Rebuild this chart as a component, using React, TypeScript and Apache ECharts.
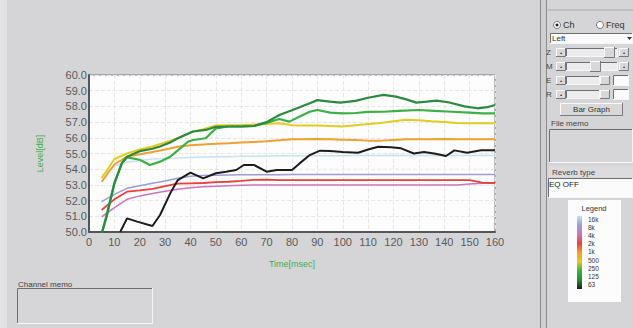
import React, { useEffect, useRef } from "react";
import * as echarts from "echarts";

// ---- data ----
const bandNames = ["16k", "8k", "4k", "2k", "1k", "500", "250", "125", "63"];
const bandColors = ["#c6e2f2", "#9c9cd6", "#cc74c0", "#e84038", "#f0a030", "#e2cc22", "#3cb044", "#2a8a40", "#1c1c1c"];

const times5 = [5, 10, 15, 20, 25, 30, 35, 40, 45, 50, 55, 60, 65, 70, 75, 80, 85, 90, 95, 100, 105, 110, 115, 120, 125, 130, 135, 140, 145, 150, 155, 160];

const level16k = [53.6, 54.2, 54.45, 54.55, 54.65, 54.7, 54.72, 54.75, 54.78, 54.8, 54.8, 54.82, 54.82, 54.84, 54.85, 54.85, 54.85, 54.86, 54.86, 54.86, 54.87, 54.87, 54.88, 54.88, 54.88, 54.88, 54.88, 54.88, 54.88, 54.88, 54.88, 54.88];
const level8k = [51.93, 52.4, 52.78, 52.95, 53.1, 53.25, 53.42, 53.55, 53.6, 53.62, 53.63, 53.64, 53.65, 53.65, 53.65, 53.66, 53.66, 53.66, 53.66, 53.66, 53.67, 53.67, 53.67, 53.67, 53.67, 53.67, 53.67, 53.67, 53.67, 53.67, 53.67, 53.67];
const level4k = [50.97, 51.55, 52.08, 52.3, 52.45, 52.6, 52.72, 52.82, 52.88, 52.92, 52.95, 52.98, 53.0, 53.0, 53.0, 53.0, 53.0, 53.0, 53.0, 53.0, 53.0, 53.0, 53.0, 53.0, 53.0, 53.0, 53.0, 53.0, 53.0, 53.05, 53.1, 53.1];
const level2k = [51.4, 52.08, 52.57, 52.65, 52.75, 52.92, 53.08, 53.1, 53.12, 53.18, 53.2, 53.25, 53.32, 53.33, 53.3, 53.3, 53.3, 53.3, 53.3, 53.3, 53.3, 53.3, 53.3, 53.3, 53.3, 53.3, 53.3, 53.3, 53.3, 53.3, 53.15, 53.12];
const level1k = [53.2, 54.3, 54.8, 54.95, 55.1, 55.25, 55.43, 55.52, 55.58, 55.62, 55.65, 55.7, 55.74, 55.78, 55.85, 55.9, 55.9, 55.92, 55.9, 55.88, 55.86, 55.82, 55.82, 55.86, 55.9, 55.9, 55.9, 55.92, 55.9, 55.9, 55.9, 55.9];
const level500 = [53.42, 54.65, 55.0, 55.25, 55.45, 55.7, 55.97, 56.35, 56.55, 56.78, 56.8, 56.82, 56.85, 56.88, 56.92, 56.8, 56.78, 56.78, 56.75, 56.72, 56.8, 56.88, 56.95, 57.05, 57.15, 57.12, 57.05, 57.0, 56.95, 56.92, 56.92, 56.92];

const times250 = [5, 7, 10, 13, 15, 20, 24, 28, 32, 35, 39, 41, 46, 50, 55, 60, 65, 70, 75, 79, 83, 87, 90, 95, 100, 105, 110, 116, 122, 130, 136, 143, 150, 155, 160];
const level250 = [49.9, 51.0, 53.1, 54.4, 54.75, 54.6, 54.27, 54.48, 54.8, 55.2, 55.75, 55.86, 55.97, 56.6, 56.72, 56.72, 56.75, 56.95, 57.2, 57.03, 57.35, 57.66, 57.77, 57.6, 57.56, 57.58, 57.65, 57.66, 57.72, 57.77, 57.72, 57.66, 57.6, 57.55, 57.56];

const times125 = [5, 7, 10, 13, 15, 20, 25, 28, 32, 35, 41, 46, 50, 55, 60, 65, 70, 75, 80, 87, 90, 95, 99, 105, 110, 116, 121, 125, 129, 133, 137, 142, 148, 153, 157, 160];
const level125 = [49.9, 51.1, 53.1, 54.4, 54.8, 55.15, 55.3, 55.45, 55.7, 55.97, 56.4, 56.5, 56.7, 56.72, 56.72, 56.75, 57.0, 57.45, 57.75, 58.2, 58.4, 58.3, 58.24, 58.35, 58.55, 58.73, 58.62, 58.45, 58.24, 58.3, 58.37, 58.25, 58.0, 57.88, 57.95, 58.09];

const times63 = [12.3, 15, 19, 25, 28, 32, 35, 40, 45, 50, 54, 58, 61, 65, 70, 74, 80, 83, 87, 91, 95, 100, 106, 110, 114, 119, 123, 128, 132, 136, 140.7, 144, 149, 154.5, 160];
const level63 = [50.0, 50.87, 50.66, 50.38, 51.08, 52.46, 53.31, 53.78, 53.42, 53.74, 53.84, 53.95, 54.27, 54.27, 53.84, 53.95, 53.95, 54.37, 54.9, 55.18, 55.16, 55.1, 55.05, 55.25, 55.43, 55.4, 55.33, 55.0, 55.1, 55.0, 54.84, 55.2, 55.05, 55.2, 55.2];

const seriesTimes = [times5, times5, times5, times5, times5, times5, times250, times125, times63];
const seriesLevels = [level16k, level8k, level4k, level2k, level1k, level500, level250, level125, level63];
const seriesWidths = [1.5, 1.5, 1.5, 1.8, 2, 2, 2.2, 2.2, 2];
const drawOrder = [0, 1, 2, 3, 4, 5, 8, 6, 7];

const FONT = '"Liberation Sans", Arial, sans-serif';

function txt(text: string, x: number, y: number, size: number, fill = "#333", align = "left") {
  return {
    type: "text",
    style: { text, x, y, fill, font: `${size}px ${FONT}`, textAlign: align, textVerticalAlign: "middle", align, verticalAlign: "middle" },
  };
}

function sunken(x: number, y: number, w: number, h: number, fill: string) {
  return [
    { type: "rect", shape: { x, y, width: w, height: h }, style: { fill } },
    { type: "polyline", shape: { points: [[x + 0.5, y + h], [x + 0.5, y + 0.5], [x + w, y + 0.5]] }, style: { stroke: "#6e6e6e", lineWidth: 1, fill: null } },
    { type: "polyline", shape: { points: [[x + w - 0.5, y], [x + w - 0.5, y + h - 0.5], [x, y + h - 0.5]] }, style: { stroke: "#f6f6f6", lineWidth: 1, fill: null } },
  ];
}

function raised(x: number, y: number, w: number, h: number, fill = "#d8d8d8") {
  return [
    { type: "rect", shape: { x, y, width: w, height: h }, style: { fill } },
    { type: "polyline", shape: { points: [[x + 0.5, y + h], [x + 0.5, y + 0.5], [x + w, y + 0.5]] }, style: { stroke: "#fafafa", lineWidth: 1, fill: null } },
    { type: "polyline", shape: { points: [[x + w - 0.5, y], [x + w - 0.5, y + h - 0.5], [x, y + h - 0.5]] }, style: { stroke: "#7a7a7a", lineWidth: 1, fill: null } },
  ];
}

function slider(label: string, y: number, thumbX: number, short: boolean) {
  const els: any[] = [txt(label, 546, y + 4.5, 8, "#444")];
  els.push(...raised(556, y, 10, 9));
  els.push(txt("•", 561, y + 4.5, 6, "#333", "center"));
  if (!short) {
    els.push(...sunken(566, y, 52, 9, "#ececec"));
    els.push(...raised(thumbX, y - 1, 11, 11));
    els.push(...raised(619, y, 10, 9));
    els.push(txt("•", 624, y + 4.5, 6, "#333", "center"));
  } else {
    els.push(...sunken(566, y, 34, 9, "#ececec"));
    els.push(...raised(600, y, 10, 9));
    els.push(...sunken(613, y - 1, 16, 11, "#fbfbfb"));
  }
  return els;
}

export default function App() {
  const ref = useRef<HTMLDivElement>(null);
  useEffect(() => {
    const chart = echarts.init(ref.current!, null, { renderer: "svg" });
    const series = drawOrder.map((i) => ({
      name: bandNames[i],
      type: "line",
      showSymbol: false,
      clip: true,
      data: seriesTimes[i].map((t, k) => [t, seriesLevels[i][k]]),
      lineStyle: { color: bandColors[i], width: seriesWidths[i] },
      itemStyle: { color: bandColors[i] },
      z: 3,
    }));

    const legendStops = bandColors.map((c, i) => ({ offset: i / (bandColors.length - 1), color: c }));

    const graphic: any[] = [
      { type: "rect", shape: { x: 0, y: 0, width: 7, height: 328 }, style: { fill: "#e2e2e4" }, z: -1 },
      // separator
      { type: "rect", shape: { x: 540, y: 0, width: 7, height: 328 }, style: { fill: "#cfcfd1" } },
      { type: "line", shape: { x1: 540.5, y1: 0, x2: 540.5, y2: 328 }, style: { stroke: "#8c8c8c", lineWidth: 1 } },
      { type: "line", shape: { x1: 546.5, y1: 0, x2: 546.5, y2: 328 }, style: { stroke: "#8c8c8c", lineWidth: 1 } },
      { type: "line", shape: { x1: 547.5, y1: 10, x2: 633, y2: 10 }, style: { stroke: "#a8a8a8", lineWidth: 1 } },
      // radio buttons
      { type: "circle", shape: { cx: 557, cy: 25, r: 3.5 }, style: { fill: "#fff", stroke: "#777", lineWidth: 1 } },
      { type: "circle", shape: { cx: 557, cy: 25, r: 1.5 }, style: { fill: "#222" } },
      txt("Ch", 563, 25, 9, "#333"),
      { type: "circle", shape: { cx: 600, cy: 25, r: 3.5 }, style: { fill: "#fff", stroke: "#777", lineWidth: 1 } },
      txt("Freq", 606, 25, 9, "#333"),
      // dropdown
      ...sunken(550, 33, 83, 11, "#fafafa"),
      txt("Left", 552, 38.5, 8, "#333"),
      { type: "polygon", shape: { points: [[627, 37], [632, 37], [629.5, 40]] }, style: { fill: "#333" } },
      // sliders
      ...slider("Z", 48, 604, false),
      ...slider("M", 62, 590, false),
      ...slider("E", 76, 0, true),
      ...slider("R", 90, 0, true),
      // bar graph button
      ...raised(560, 103, 63, 13),
      txt("Bar Graph", 591.5, 109.5, 8, "#333", "center"),
      txt("File memo", 551, 123, 8, "#444"),
      ...sunken(549, 129, 84, 34, "#d6d6d8"),
      { type: "rect", shape: { x: 549, y: 166, width: 84, height: 11 }, style: { fill: "#dcdcde" } },
      txt("Reverb type", 552, 172, 8, "#444"),
      ...sunken(548, 178, 85, 20, "#fbfbfb"),
      txt("EQ OFF", 549, 184, 8, "#222"),
      // legend box
      { type: "rect", shape: { x: 568, y: 200, width: 53, height: 102 }, style: { fill: "#fcfcfc" } },
      txt("Legend", 594, 208, 7.5, "#333", "center"),
      {
        type: "rect",
        shape: { x: 577, y: 216, width: 5, height: 73 },
        style: { fill: new echarts.graphic.LinearGradient(0, 0, 0, 1, legendStops) },
      },
      ...bandNames.map((b, i) => txt(b, 588, 219 + i * 8.2, 6.5, "#333")),
      // channel memo
      txt("Channel memo", 18, 284, 8, "#444"),
      ...sunken(17, 288, 136, 36, "#d6d6d8"),
    ];

    chart.setOption({
      animation: false,
      backgroundColor: "#d5d5d7",
      grid: {
        left: 89,
        top: 75,
        width: 406,
        height: 157,
        show: true,
        backgroundColor: "#fdfdfd",
        borderColor: "#7a7a7a",
        borderWidth: 1,
      },
      xAxis: {
        type: "value",
        min: 0,
        max: 160,
        interval: 10,
        name: "Time[msec]",
        nameLocation: "middle",
        nameGap: 27,
        nameTextStyle: { color: "#3cb04c", fontSize: 9, fontFamily: FONT },
        axisLine: { show: true, onZero: false, lineStyle: { color: "#555", width: 2 } },
        axisTick: { show: false },
        axisLabel: { color: "#5a5a5a", fontSize: 11, fontFamily: FONT, margin: 4 },
        splitLine: { show: true, lineStyle: { color: "#ebe6e6", type: "dashed", width: 1 } },
      },
      yAxis: {
        type: "value",
        min: 50,
        max: 60,
        interval: 1,
        name: "Level[dB]",
        nameLocation: "middle",
        nameGap: 45,
        nameRotate: 90,
        nameTextStyle: { color: "#3cb04c", fontSize: 9, fontFamily: FONT },
        axisLine: { show: true, onZero: false, lineStyle: { color: "#555", width: 2 } },
        axisTick: { show: false },
        axisLabel: { color: "#5a5a5a", fontSize: 11, fontFamily: FONT, margin: 2, formatter: (v: number) => v.toFixed(1) },
        splitLine: { show: true, lineStyle: { color: "#ebe6e6", type: "dashed", width: 1 } },
      },
      graphic,
      series,
    });
    return () => chart.dispose();
  }, []);
  return <div ref={ref} style={{ position: "fixed", left: 0, top: 0, width: 633, height: 328 }} />;
}
